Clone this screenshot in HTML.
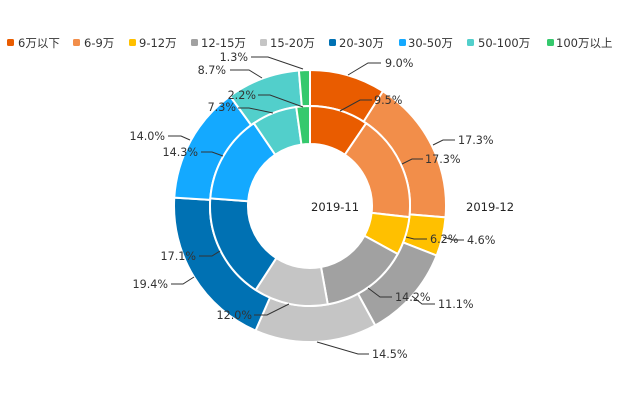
<!DOCTYPE html>
<html><head><meta charset="utf-8">
<style>
html,body{margin:0;padding:0;background:#fff;}
svg{display:block;}
text{font-family:"DejaVu Sans","Liberation Sans","Noto Sans CJK SC",sans-serif;}
.lg{font-size:11.5px;fill:#333;}
.lb{font-size:11.2px;fill:#333;}
.ln{fill:none;stroke:#333;stroke-width:1;}
.sl{stroke:#fff;stroke-width:2;stroke-linejoin:round;}
</style></head>
<body>
<svg width="620" height="413" viewBox="0 0 620 413" xmlns="http://www.w3.org/2000/svg">
<rect width="620" height="413" fill="#fff"/>
<!-- legend -->
<g>
<rect x="7" y="39" width="7" height="7" rx="1.5" fill="#E95C00"/><text class="lg" x="18" y="47">6万以下</text>
<rect x="73" y="39" width="7" height="7" rx="1.5" fill="#F28E4A"/><text class="lg" x="84" y="47">6-9万</text>
<rect x="129" y="39" width="7" height="7" rx="1.5" fill="#FFC000"/><text class="lg" x="139" y="47">9-12万</text>
<rect x="191" y="39" width="7" height="7" rx="1.5" fill="#A1A1A1"/><text class="lg" x="201" y="47">12-15万</text>
<rect x="260" y="39" width="7" height="7" rx="1.5" fill="#C5C5C5"/><text class="lg" x="270" y="47">15-20万</text>
<rect x="329" y="39" width="7" height="7" rx="1.5" fill="#0071B3"/><text class="lg" x="339" y="47">20-30万</text>
<rect x="399" y="39" width="7" height="7" rx="1.5" fill="#14A9FF"/><text class="lg" x="408" y="47">30-50万</text>
<rect x="467" y="39" width="7" height="7" rx="1.5" fill="#52CFCB"/><text class="lg" x="478" y="47">50-100万</text>
<rect x="547" y="39" width="7" height="7" rx="1.5" fill="#35C96D"/><text class="lg" x="556" y="47">100万以上</text>
</g>

<!-- outer ring 2019-12 -->
<g class="sl">
<path fill="#E95C00" d="M310,70 A136,136 0 0 1 382.94,91.22 L363.63,121.60 A100,100 0 0 0 310,106 Z"/>
<path fill="#F28E4A" d="M382.94,91.22 A136,136 0 0 1 445.53,217.32 L409.65,214.32 A100,100 0 0 0 363.63,121.60 Z"/>
<path fill="#FFC000" d="M445.53,217.32 A136,136 0 0 1 436.67,255.52 L403.14,242.41 A100,100 0 0 0 409.65,214.32 Z"/>
<path fill="#A1A1A1" d="M436.67,255.52 A136,136 0 0 1 375.21,325.35 L357.95,293.76 A100,100 0 0 0 403.14,242.41 Z"/>
<path fill="#C5C5C5" d="M375.21,325.35 A136,136 0 0 1 255.53,330.62 L269.95,297.63 A100,100 0 0 0 357.95,293.76 Z"/>
<path fill="#0071B3" d="M255.53,330.62 A136,136 0 0 1 174.26,197.66 L210.19,199.87 A100,100 0 0 0 269.95,297.63 Z"/>
<path fill="#14A9FF" d="M174.26,197.66 A136,136 0 0 1 229.99,96.02 L251.17,125.14 A100,100 0 0 0 210.19,199.87 Z"/>
<path fill="#52CFCB" d="M229.99,96.02 A136,136 0 0 1 298.89,70.45 L301.83,106.33 A100,100 0 0 0 251.17,125.14 Z"/>
<path fill="#35C96D" d="M298.89,70.45 A136,136 0 0 1 310,70 L310,106 A100,100 0 0 0 301.83,106.33 Z"/>
</g>

<!-- inner ring 2019-11 -->
<g class="sl">
<path fill="#E95C00" d="M310,106 A100,100 0 0 1 366.16,123.26 L344.82,154.70 A62,62 0 0 0 310,144 Z"/>
<path fill="#F28E4A" d="M366.16,123.26 A100,100 0 0 1 409.38,217.12 L371.62,212.89 A62,62 0 0 0 344.82,154.70 Z"/>
<path fill="#FFC000" d="M409.38,217.12 A100,100 0 0 1 397.72,254.00 L364.39,235.76 A62,62 0 0 0 371.62,212.89 Z"/>
<path fill="#A1A1A1" d="M397.72,254.00 A100,100 0 0 1 327.79,304.40 L321.03,267.01 A62,62 0 0 0 364.39,235.76 Z"/>
<path fill="#C5C5C5" d="M327.79,304.40 A100,100 0 0 1 255.67,289.95 L276.32,258.05 A62,62 0 0 0 321.03,267.01 Z"/>
<path fill="#0071B3" d="M255.67,289.95 A100,100 0 0 1 210.30,198.32 L248.18,201.24 A62,62 0 0 0 276.32,258.05 Z"/>
<path fill="#14A9FF" d="M210.30,198.32 A100,100 0 0 1 253.84,123.26 L275.18,154.70 A62,62 0 0 0 248.18,201.24 Z"/>
<path fill="#52CFCB" d="M253.84,123.26 A100,100 0 0 1 296.24,106.95 L301.47,144.59 A62,62 0 0 0 275.18,154.70 Z"/>
<path fill="#35C96D" d="M296.24,106.95 A100,100 0 0 1 310,106 L310,144 A62,62 0 0 0 301.47,144.59 Z"/>
</g>

<!-- leader lines -->
<g class="ln">
<polyline points="348,75 368,63 381,63"/>
<polyline points="433,145 443,140 455,140"/>
<polyline points="443,237 453,240 464,240"/>
<polyline points="412,296 422,304 435,304"/>
<polyline points="317,342 358,354 369,354"/>
<polyline points="194,277 183,284 171,284"/>
<polyline points="190,140 181,136 168,136"/>
<polyline points="262,78 249,70 230,70"/>
<polyline points="303,69 268,57 251,57"/>

<polyline points="340,111 360,100 372,100"/>
<polyline points="402,164 412,159 423,159"/>
<polyline points="406,237 414,239 427,239"/>
<polyline points="368,288 380,297 392,297"/>
<polyline points="289,304 267,315 254,315"/>
<polyline points="220,251 212,256 199,256"/>
<polyline points="223,156 212,152 201,152"/>
<polyline points="273,113 249,108 238,108"/>
<polyline points="303,107 270,95 258,95"/>
</g>

<!-- labels -->
<g class="lb">
<text x="385" y="67">9.0%</text>
<text x="458" y="144">17.3%</text>
<text x="467" y="244">4.6%</text>
<text x="438" y="308">11.1%</text>
<text x="372" y="358">14.5%</text>
<text x="168" y="288" text-anchor="end">19.4%</text>
<text x="165" y="140" text-anchor="end">14.0%</text>
<text x="226" y="74" text-anchor="end">8.7%</text>
<text x="248" y="61" text-anchor="end">1.3%</text>

<text x="374" y="104">9.5%</text>
<text x="425" y="163">17.3%</text>
<text x="430" y="243">6.2%</text>
<text x="395" y="301">14.2%</text>
<text x="252" y="319" text-anchor="end">12.0%</text>
<text x="196" y="260" text-anchor="end">17.1%</text>
<text x="198" y="156" text-anchor="end">14.3%</text>
<text x="236" y="111" text-anchor="end">7.3%</text>
<text x="256" y="99" text-anchor="end">2.2%</text>
</g>

<text x="311" y="211" style="font-size:11.5px;fill:#222;">2019-11</text>
<text x="466" y="211" style="font-size:11.5px;fill:#222;">2019-12</text>
</svg>
</body></html>
